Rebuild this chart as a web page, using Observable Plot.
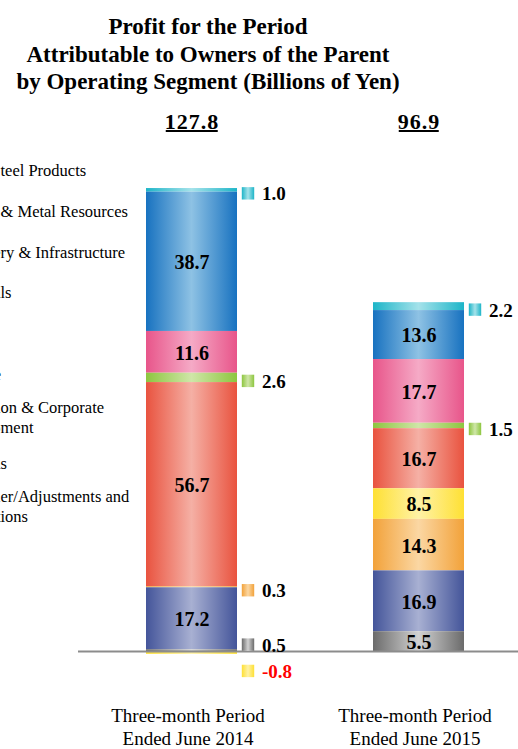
<!DOCTYPE html>
<html><head><meta charset="utf-8">
<script src="https://cdn.jsdelivr.net/npm/d3@7"></script>
<script src="https://cdn.jsdelivr.net/npm/@observablehq/plot@0.6"></script>
<style>
html,body{margin:0;padding:0;background:#fff;}
#page{position:relative;width:518px;height:749px;overflow:hidden;font-family:'Liberation Serif','Times New Roman',serif;color:#000;}
#title{height:100px;box-sizing:border-box;padding-top:13px;width:416px;text-align:center;font-weight:bold;font-size:23px;line-height:27.5px;}
#chart{position:absolute;left:0;top:100px;}
#legend{position:absolute;left:0;top:0;width:518px;height:749px;pointer-events:none;}
.lg{position:absolute;white-space:nowrap;font-size:16.5px;line-height:20px;}
</style></head>
<body><div id="page">
<svg width="0" height="0" style="position:absolute;left:0;top:0"><defs id="defs"></defs></svg>
<div id="title">Profit for the Period<br>Attributable to Owners of the Parent<br>by Operating Segment (Billions of Yen)</div>
<div id="chart"></div>
<div id="legend"></div>
</div>
<script>
// ---- data ----
const segments = [
  "Iron & Steel Products",
  "Mineral & Metal Resources",
  "Machinery & Infrastructure",
  "Chemicals",
  "Energy",
  "Lifestyle",
  "Innovation & Corporate Development",
  "Americas",
  "All Other/Adjustments and Eliminations"
];
const periods = ["2014", "2015"];
const periodLabels = ["Three-month Period\nEnded June 2014", "Three-month Period\nEnded June 2015"];
const values2014 = [1.0, 38.7, 11.6, 2.6, 56.7, -0.8, 0.3, 17.2, 0.5];
const values2015 = [2.2, 13.6, 17.7, 1.5, 16.7, 8.5, 14.3, 16.9, 5.5];

// ---- styling ----
const segEdge  = ["#1db5c8","#1872c0","#e8558a","#8dc63f","#e9533f","#fee034","#f2a23a","#44559a","#6b6b6b"];
const segLight = ["#a4e2ea","#8ec2e4","#f5aac6","#cfe6a8","#f5b0a5","#fff2a6","#fbd7a3","#a8b0d2","#d2d2d2"];
const ns = "http://www.w3.org/2000/svg";
const defs = document.getElementById("defs");
segments.forEach((s, i) => {
  const g = document.createElementNS(ns, "linearGradient");
  g.setAttribute("id", "seg" + i);
  g.setAttribute("x1", "0"); g.setAttribute("x2", "1"); g.setAttribute("y1", "0"); g.setAttribute("y2", "0");
  [[0, segEdge[i]], [0.5, segLight[i]], [1, segEdge[i]]].forEach(([o, c]) => {
    const st = document.createElementNS(ns, "stop");
    st.setAttribute("offset", o); st.setAttribute("stop-color", c);
    g.appendChild(st);
  });
  defs.appendChild(g);
});

const rows = periods.flatMap((p, i) =>
  segments.map((s, j) => ({period: p, segment: s, value: [values2014, values2015][i][j]})));
const stackOrder = segments.slice().reverse();
const isSmall = d => Math.abs(d.value) < 5;
const totalOf = p => d3.sum(rows.filter(r => r.period === p), r => r.value).toFixed(1);

function outsideLabels(test, dy, textFill) {
  const base = {x: "period", y: "value", z: "segment", order: stackOrder};
  return [
    Plot.dot(rows, Plot.filter(test, Plot.stackY({...base, fill: "segment", symbol: "square", r: 7, dx: 56, dy}))),
    Plot.text(rows, Plot.filter(test, Plot.stackY({...base, text: d => d.value.toFixed(1), dx: 70, dy: dy + 1,
      textAnchor: "start", fontSize: 19, fontWeight: "bold", fill: textFill})))
  ];
}

const chart = Plot.plot({
  width: 518, height: 649,
  marginTop: 0, marginBottom: 0, marginLeft: 78, marginRight: 0,
  x: {type: "band", domain: periods, range: [146, 464], paddingInner: 0.6, paddingOuter: 0, axis: null},
  y: {domain: [0, 100], range: [551, 191], axis: null},
  color: {type: "ordinal", domain: segments, range: segments.map((d, i) => `url(#seg${i})`)},
  style: {fontFamily: "'Liberation Serif','Times New Roman',serif", background: "transparent", color: "#000", overflow: "visible"},
  marks: [
    Plot.barY(rows, Plot.stackY({x: "period", y: "value", z: "segment", fill: "segment", order: stackOrder})),
    Plot.ruleY([0], {stroke: "#8c8c8c", strokeWidth: 2}),
    Plot.text(rows, Plot.stackY({x: "period", y: "value", z: "segment", order: stackOrder,
      text: d => isSmall(d) ? "" : d.value.toFixed(1), fontSize: 20, fontWeight: "bold", fill: "#000", dy: 1})),
    ...outsideLabels(d => isSmall(d) && d.value < 0, 18, "#ff0000"),
    ...outsideLabels(d => isSmall(d) && d.value >= 0 && d.segment === stackOrder[0], -6, "#000"),
    ...outsideLabels(d => isSmall(d) && d.value >= 0 && d.segment !== stackOrder[0], 3, "#000"),
    Plot.text(periods, {x: d => d, text: totalOf,
      frameAnchor: "top", dy: 28, lineAnchor: "bottom", fontSize: 22, fontWeight: "bold", fill: "#000"}),
    Plot.axisX({tickSize: 0, tickPadding: 0, dy: -43, dx: -4, fontSize: 19, lineHeight: 1.17, fill: "#000", label: null,
      tickFormat: d => periodLabels[periods.indexOf(d)]})
  ]
});
document.getElementById("chart").appendChild(chart);

// underline the totals (as in the reference)
const totalStrings = periods.map(totalOf);
const svgRect = chart.getBoundingClientRect();
Array.from(chart.querySelectorAll("text")).forEach(t => {
  if (!totalStrings.includes(t.textContent.trim())) return;
  t.style.letterSpacing = "1px";
  const r = t.getBoundingClientRect();
  const line = document.createElementNS(ns, "line");
  line.setAttribute("x1", r.left - svgRect.left + 1);
  line.setAttribute("x2", r.right - svgRect.left - 1.5);
  line.setAttribute("y1", 31); line.setAttribute("y2", 31);
  line.setAttribute("stroke", "#000"); line.setAttribute("stroke-width", 2);
  chart.appendChild(line);
});

// ---- legend (left edge cropped, as in the reference) ----
const legendY = [171, 212, 253, 293, 334, 375, 408, 464, 497];
const legendHide = [[8], [8], [7], [7], [99], [99], [8, 7], [7], [7, 8]];
const legendEdge = [0.5, 0.5, 0.5, 0.5, -3, 1, 0.5, 0.5, 0.5];
const ctx = document.createElement("canvas").getContext("2d");
ctx.font = "16.5px 'Liberation Serif'";
const legend = document.getElementById("legend");
segments.forEach((name, i) => {
  let lines = [name];
  if (name.length > 28) { const k = name.lastIndexOf(" "); lines = [name.slice(0, k), name.slice(k + 1)]; }
  lines.forEach((ln, j) => {
    const hidden = ln.slice(0, legendHide[i][j]);
    const div = document.createElement("div");
    div.className = "lg";
    div.textContent = ln;
    div.style.left = (legendEdge[i] - ctx.measureText(hidden).width) + "px";
    div.style.top = (legendY[i] + j * 20 - 10) + "px";
    legend.appendChild(div);
  });
});
</script>
</body></html>
